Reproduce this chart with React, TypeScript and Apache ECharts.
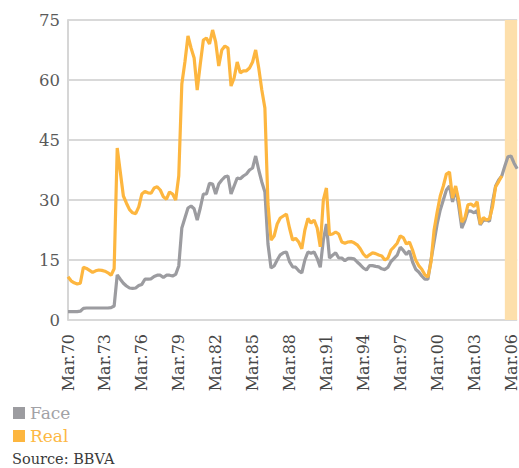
import React, { useEffect, useRef } from "react";
import * as echarts from "echarts";

const QUARTERS = ["Mar", "Jun", "Sep", "Dec"];
const FIRST_YEAR = 1970;
const QUARTER_COUNT = 147;
const categories: string[] = Array.from({ length: QUARTER_COUNT }, (_, i) =>
  `${QUARTERS[i % 4]}.${String((FIRST_YEAR + Math.floor(i / 4)) % 100).padStart(2, "0")}`
);

const yTicks = { min: 0, max: 75, interval: 15 };

const faceValues = [
  2.1, 2.1, 2.1, 2.1, 2.2, 2.9, 3, 3, 3, 3, 3, 3,
  3, 3, 3.1, 3.5, 11.3, 10.2, 9.2, 8.5, 8, 7.9, 8, 8.6,
  8.9, 10.2, 10.2, 10.3, 10.9, 11.2, 11.2, 10.6, 11.2, 11.2, 11, 11.4,
  13.5, 23, 25.5, 28, 28.5, 27.8, 25, 28, 31.5, 31.5, 34.2, 34,
  31.5, 34, 35, 35.8, 36, 31.5, 33.5, 35.5, 35.3, 36, 36.5, 37.5,
  38, 41, 37.5, 34.5, 32, 19, 13, 13.5, 15, 16.3, 16.8, 17,
  14.6, 13.3, 13.2, 12.3, 11.8, 15, 17, 16.7, 17, 15.4, 13.2, 20,
  24, 15.5, 16.2, 16.8, 15.5, 15.5, 14.8, 15.4, 15.4, 15.3, 14.5, 13.8,
  13, 12.5, 13.6, 13.6, 13.4, 13.3, 12.8, 12.6, 13.2, 14.6, 15.4, 16.2,
  18.2, 17.4, 16.4, 17.3, 14.5, 12.7, 12, 11, 10.2, 10.2, 15, 19.5,
  24, 27.5, 30, 32.5, 33.5, 29.5, 33, 28.5, 23, 24.8, 27.3, 27.2,
  26.8, 27.4, 23.8, 24.9, 25, 24.7, 29.5, 33.5, 35, 36, 38.5, 40.8,
  41, 39.2, 37.8,
];

const realValues = [
  10.8, 9.8, 9.3, 9, 9.2, 13.2, 12.9, 12.4, 11.9, 12.3, 12.5, 12.4,
  12.2, 11.8, 11.2, 12.8, 43, 37, 31, 29.2, 27.6, 26.8, 26.6, 28.3,
  31.5, 32.1, 31.8, 31.7, 33, 33.3, 32.5, 30.8, 30.2, 32, 31.5, 30,
  36, 59, 64.5, 71, 68, 65.5, 57.5, 64, 70, 70.5, 69, 72.5,
  69.5, 63.5, 67.5, 68.5, 68, 58.5, 60.5, 64.5, 61.8, 62.3, 62.3, 63,
  64.5, 67.5, 63, 57.5, 53, 29, 20, 21, 24, 25.5, 26, 26.5,
  23, 20, 20.4, 19.5, 17.8, 22.5, 25.4, 24.2, 25, 23, 18.3, 30,
  33, 21.3, 21.5, 22, 21.5, 19.5, 19.2, 19.5, 19.6, 19.3, 18.8, 17.8,
  16.5, 15.7, 16.3, 16.8, 16.6, 16.25, 16, 15, 15.5, 17.5, 18.3, 19.2,
  21, 20.6, 19, 19.5, 17.5, 15, 13.6, 12.7, 11.3, 10.8, 14.5, 22.5,
  27, 31, 33.5, 36.5, 37, 30.5, 33.5, 30, 24.5, 25.5, 28.8, 29,
  28.4, 29.6, 24, 25.6, 25, 25.3, 28.3, 33.3, 34.6, 36,
];

const shadedPeriod = ["Sep.05", "Sep.06"];
const seriesNames = ["Face", "Real"];
const sourceText = "Source: BBVA";

const FONT = "'DejaVu Serif', 'Liberation Serif', serif";
const GRAY = "#9c9ca0";
const ORANGE = "#fdb63f";

export default function App() {
  const ref = useRef<HTMLDivElement>(null);
  useEffect(() => {
    document.body.style.margin = "0";
    if (!ref.current) return;
    const chart = echarts.init(ref.current, undefined, { renderer: "svg" });
    chart.setOption({
      animation: false,
      backgroundColor: "#ffffff",
      grid: { left: 68, right: 0, top: 20, bottom: 148, containLabel: false },
      legend: {
        orient: "vertical",
        left: 13,
        top: 403,
        padding: 0,
        itemWidth: 12,
        itemHeight: 12,
        itemGap: 3,
        icon: "rect",
        textStyle: { fontFamily: FONT, fontSize: 17, lineHeight: 20 },
        data: [
          { name: seriesNames[0], textStyle: { color: "#a2a2a6" } },
          { name: seriesNames[1], textStyle: { color: "#fdb844" } },
        ],
      },
      xAxis: {
        type: "category",
        data: categories,
        boundaryGap: false,
        axisLine: { show: false },
        axisTick: { show: false },
        axisLabel: {
          interval: 11,
          rotate: 90,
          margin: 14,
          fontFamily: FONT,
          fontSize: 16,
          color: "#464646",
        },
        splitLine: { show: false },
      },
      yAxis: {
        type: "value",
        min: yTicks.min,
        max: yTicks.max,
        interval: yTicks.interval,
        axisLine: { show: true, lineStyle: { color: "#d6d6d6", width: 2 } },
        axisTick: { show: false },
        axisLabel: {
          margin: 8,
          fontFamily: FONT,
          fontSize: 16.5,
          color: "#5a5a5a",
        },
        splitLine: { show: true, lineStyle: { color: "#d9d9d9", width: 2 } },
      },
      series: [
        {
          name: seriesNames[0],
          type: "line",
          data: faceValues,
          symbol: "none",
          color: GRAY,
          lineStyle: { color: GRAY, width: 3.2 },
          markArea: {
            silent: true,
            itemStyle: { color: "#fddfab" },
            data: [[{ xAxis: shadedPeriod[0] }, { xAxis: shadedPeriod[1] }]],
          },
        },
        {
          name: seriesNames[1],
          type: "line",
          data: realValues,
          symbol: "none",
          color: ORANGE,
          lineStyle: { color: ORANGE, width: 3.2 },
        },
      ],
      graphic: [
        {
          type: "text",
          left: 12,
          top: 451,
          style: { text: sourceText, fontFamily: FONT, fontSize: 14.5, fill: "#3a3a3a" },
        },
      ],
    });
    return () => chart.dispose();
  }, []);
  return <div ref={ref} style={{ width: 519, height: 468 }} />;
}
